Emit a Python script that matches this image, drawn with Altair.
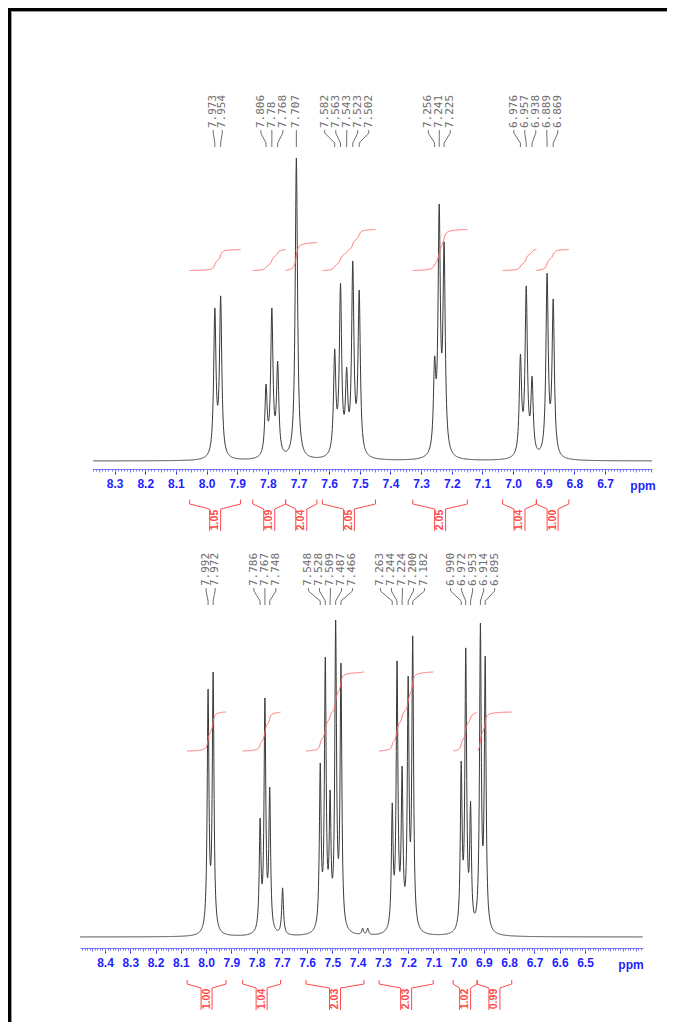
import numpy as np
import pandas as pd
import altair as alt

# ------------------------------------------------------------------ data
# upper spectrum: peak positions as drawn (ppm), apparent heights (% of tallest), labels
TOP_PEAKS = [7.973, 7.954, 7.806, 7.787, 7.768, 7.707, 7.582, 7.563, 7.543, 7.523,
             7.502, 7.256, 7.241, 7.225, 6.976, 6.957, 6.938, 6.889, 6.869]
TOP_HEIGHTS = [50.5, 54.5, 25.4, 50.5, 33.0, 100.0, 37.0, 58.7, 31.0, 66.0,
               56.4, 34.7, 84.8, 72.3, 35.3, 57.8, 28.0, 62.0, 53.5]
TOP_LABELS = ["7.973", "7.954", "7.806", "7.78", "7.768", "7.707", "7.582", "7.563",
              "7.543", "7.523", "7.502", "7.256", "7.241", "7.225", "6.976", "6.957",
              "6.938", "6.889", "6.869"]
TOP_GROUPS = [0, 0, 1, 1, 1, 2, 3, 3, 3, 3, 3, 4, 4, 4, 5, 5, 5, 5, 5]
TOP_INT_FROM = [8.055, 7.849, 7.742, 7.622, 7.327, 7.034, 6.924]
TOP_INT_TO = [7.889, 7.742, 7.640, 7.449, 7.149, 6.924, 6.818]
TOP_INT_VALUES = ["1.05", "1.09", "2.04", "2.05", "2.05", "1.04", "1.00"]
TOP_INT_RISE = [21, 21, 28, 41, 41, 21, 21]
TOP_TICKS = [8.3, 8.2, 8.1, 8.0, 7.9, 7.8, 7.7, 7.6, 7.5, 7.4, 7.3, 7.2, 7.1, 7.0, 6.9, 6.8, 6.7]

# lower spectrum
BOT_PEAKS = [7.992, 7.972, 7.786, 7.767, 7.748, 7.697, 7.548, 7.528, 7.509, 7.487,
             7.466, 7.380, 7.360, 7.263, 7.244, 7.224, 7.200, 7.182, 6.990, 6.972,
             6.953, 6.914, 6.895]
BOT_HEIGHTS = [78.2, 83.6, 37.5, 75.4, 47.3, 15.5, 54.9, 88.3, 46.4, 100.0,
               86.4, 2.8, 2.8, 42.3, 87.1, 53.9, 82.3, 95.0, 55.5, 91.2,
               42.9, 99.0, 88.6]
BOT_LABELS = ["7.992", "7.972", "7.786", "7.767", "7.748", "", "7.548", "7.528", "7.509",
              "7.487", "7.466", "", "", "7.263", "7.244", "7.224", "7.200", "7.182",
              "6.990", "6.972", "6.953", "6.914", "6.895"]
BOT_GROUPS = [0, 0, 1, 1, 1, -1, 2, 2, 2, 2, 2, -1, -1, 3, 3, 3, 3, 3, 4, 4, 4, 4, 4]
BOT_INT_FROM = [8.075, 7.855, 7.604, 7.315, 7.022, 6.927]
BOT_INT_TO = [7.921, 7.705, 7.375, 7.101, 6.927, 6.790]
BOT_INT_VALUES = ["1.00", "1.04", "2.03", "2.03", "1.02", "0.99"]
BOT_INT_RISE = [39, 39, 79, 79, 39, 39]
BOT_TICKS = [8.4, 8.3, 8.2, 8.1, 8.0, 7.9, 7.8, 7.7, 7.6, 7.5, 7.4, 7.3, 7.2, 7.1,
             7.0, 6.9, 6.8, 6.7, 6.6, 6.5]

# ------------------------------------------------------------------ layout
W, H, M = 659, 1014, 8
BLUE = "#1f1fff"
RED = "#ff4a4a"

TOP_CFG = dict(x0=93, x1=652, dom=[8.3705, 6.5467], base=461, top=158, axis_y=469,
               lab_y=128, conn=[130, 133, 143, 147], int_base=270.5,
               br=[499.5, 504, 509, 531], num_y=520, ppm_xy=(643, 486), w=0.0045)
BOT_CFG = dict(x0=80, x1=643, dom=[8.499, 6.2704], base=937, top=620, axis_y=948,
               lab_y=586, conn=[588, 591, 601, 605], int_base=751,
               br=[980, 984, 988, 1010], num_y=999, ppm_xy=(631, 965), w=0.0041)


def model(grid, peaks, amps, w):
    d = grid[:, None] - np.asarray(peaks)[None, :]
    return (np.asarray(amps)[None, :] / (1.0 + (d / w) ** 2)).sum(axis=1)


def solve_amps(peaks, heights, w):
    p = np.asarray(peaks)
    mat = 1.0 / (1.0 + ((p[:, None] - p[None, :]) / w) ** 2)
    a = np.linalg.solve(mat, np.asarray(heights, dtype=float))
    return np.clip(a, 0.3, None)


def panel_layers(cfg, peaks, heights, labels, groups, int_from, int_to, int_vals,
                 int_rise, ticks):
    w = cfg["w"]
    dom = cfg["dom"]
    pxppm = (cfg["x1"] - cfg["x0"]) / (dom[0] - dom[1])
    xs = alt.Scale(domain=dom, range=[cfg["x0"] - M, cfg["x1"] - M], nice=False, zero=False)
    ypix = alt.Scale(domain=[M, M + H], range=[0, H], nice=False, zero=False)
    yint = alt.Scale(domain=[0, 100], range=[cfg["base"] - M, cfg["top"] - M],
                     nice=False, zero=False)
    offset = -(H - (cfg["axis_y"] - M))

    amps = solve_amps(peaks, heights, w)
    grid = np.round(np.arange(np.ceil(dom[1] * 1000) / 1000, dom[0], 0.001), 3)
    inten = model(grid, peaks, amps, w)
    spec_df = pd.DataFrame({"ppm": grid, "inten": inten})

    layers = []
    major_axis = alt.Axis(orient="bottom", offset=offset, values=ticks, format=".1f",
                          labelColor=BLUE, labelFont="Liberation Sans", labelFontSize=12,
                          labelFontWeight="bold", labelPadding=4, labelFlush=False,
                          labelOverlap=False, tickColor=BLUE, tickSize=5, tickWidth=1,
                          domainColor="#7c7cff", domainWidth=1, grid=False, title=None)
    layers.append(
        alt.Chart(spec_df).mark_line(color="#3a3a3a", strokeWidth=1).encode(
            x=alt.X("ppm:Q", scale=xs, axis=major_axis),
            y=alt.Y("inten:Q", scale=yint, axis=None),
        )
    )
    # minor / medium ticks as further axes on the same scale
    lo, hi = dom[1], dom[0]
    minor_vals = [round(v, 2) for v in np.arange(np.ceil(lo * 100) / 100, hi, 0.01)]
    mid_vals = [round(v, 2) for v in np.arange(np.ceil(lo * 20) / 20, hi, 0.05)]
    for vals, size in ((minor_vals, 2), (mid_vals, 3)):
        ax = alt.Axis(orient="bottom", offset=offset, values=vals, labels=False,
                      domain=False, tickColor="#6c6cff", tickSize=size, tickWidth=1,
                      grid=False, title=None)
        layers.append(
            alt.Chart(spec_df.iloc[:2]).mark_point(opacity=0).encode(
                x=alt.X("ppm:Q", scale=xs, axis=ax),
                y=alt.Y("inten:Q", scale=yint, axis=None),
            )
        )

    # peak labels and connectors
    lab_rows, conn_rows = [], []
    gids = sorted(set(g for g in groups if g >= 0))
    for g in gids:
        idx = [i for i, gg in enumerate(groups) if gg == g]
        idx.sort(key=lambda i: -peaks[i])
        n = len(idx)
        center = float(np.mean([peaks[i] for i in idx]))
        sp = (9.0 if n == 2 else 11.0) / pxppm
        for k, i in enumerate(idx):
            lp = center + ((n - 1) / 2 - k) * sp
            lab_rows.append({"ppm": lp, "text": labels[i]})
            c = cfg["conn"]
            pts = [(lp, c[0]), (lp, c[1]), (peaks[i], c[2]), (peaks[i], c[3])]
            for j, (xx, yy) in enumerate(pts):
                conn_rows.append({"ppm": xx, "ypx": yy, "id": labels[i], "k": j})
    layers.append(
        alt.Chart(pd.DataFrame(lab_rows)).mark_text(
            angle=270, align="left", baseline="middle", font="DejaVu Sans Mono",
            fontSize=11, color="#6e6e6e").encode(
            x=alt.X("ppm:Q", scale=xs, axis=None),
            y=alt.value(cfg["lab_y"] - M),
            text="text:N",
        )
    )
    layers.append(
        alt.Chart(pd.DataFrame(conn_rows)).mark_line(color="#707070", strokeWidth=1).encode(
            x=alt.X("ppm:Q", scale=xs, axis=None),
            y=alt.Y("ypx:Q", scale=ypix, axis=None),
            detail="id:N",
            order="k:Q",
        )
    )

    # integral curves, brackets and values
    int_rows, br_rows, num_rows = [], [], []
    hw = 5.5 / pxppm
    b = cfg["br"]
    for j, (a, z) in enumerate(zip(int_from, int_to)):
        seg = grid[(grid <= a) & (grid >= z)][::-1]
        vals = model(seg, peaks, amps, w)
        cum = np.cumsum(vals)
        cum = (cum - cum[0]) / (cum[-1] - cum[0])
        for k, (xx, cc) in enumerate(zip(seg, cum)):
            int_rows.append({"ppm": xx, "ypx": cfg["int_base"] - int_rise[j] * cc,
                             "id": j, "k": k})
        cen = (a + z) / 2
        left = [(a, b[0]), (a, b[1]), (cen + hw, b[2]), (cen + hw, b[3])]
        right = [(z, b[0]), (z, b[1]), (cen - hw, b[2]), (cen - hw, b[3])]
        for side, pts in (("L", left), ("R", right)):
            for k, (xx, yy) in enumerate(pts):
                br_rows.append({"ppm": xx, "ypx": yy, "id": f"{j}{side}", "k": k})
        num_rows.append({"ppm": cen, "text": int_vals[j]})
    layers.append(
        alt.Chart(pd.DataFrame(int_rows)).mark_line(color="#ff6a6a", strokeWidth=1).encode(
            x=alt.X("ppm:Q", scale=xs, axis=None),
            y=alt.Y("ypx:Q", scale=ypix, axis=None),
            detail="id:N",
            order="k:Q",
        )
    )
    layers.append(
        alt.Chart(pd.DataFrame(br_rows)).mark_line(color=RED, strokeWidth=1).encode(
            x=alt.X("ppm:Q", scale=xs, axis=None),
            y=alt.Y("ypx:Q", scale=ypix, axis=None),
            detail="id:N",
            order="k:Q",
        )
    )
    layers.append(
        alt.Chart(pd.DataFrame(num_rows)).mark_text(
            angle=270, align="center", baseline="middle", font="Liberation Sans",
            fontSize=10.5, fontWeight="bold", color=RED).encode(
            x=alt.X("ppm:Q", scale=xs, axis=None),
            y=alt.value(cfg["num_y"] - M),
            text="text:N",
        )
    )
    layers.append(
        alt.Chart(pd.DataFrame({"t": ["ppm"]})).mark_text(
            align="center", baseline="middle", font="Liberation Sans", fontSize=12,
            fontWeight="bold", color=BLUE).encode(
            x=alt.value(cfg["ppm_xy"][0] - M),
            y=alt.value(cfg["ppm_xy"][1] - M),
            text="t:N",
        )
    )
    return layers


layers = []
layers += panel_layers(TOP_CFG, TOP_PEAKS, TOP_HEIGHTS, TOP_LABELS, TOP_GROUPS,
                       TOP_INT_FROM, TOP_INT_TO, TOP_INT_VALUES, TOP_INT_RISE, TOP_TICKS)
layers += panel_layers(BOT_CFG, BOT_PEAKS, BOT_HEIGHTS, BOT_LABELS, BOT_GROUPS,
                       BOT_INT_FROM, BOT_INT_TO, BOT_INT_VALUES, BOT_INT_RISE, BOT_TICKS)

# page frame (left and top edges)
one = pd.DataFrame({"a": [0]})
layers.append(alt.Chart(one).mark_rule(color="#000000", strokeWidth=3).encode(
    x=alt.value(1.5), y=alt.value(0), y2=alt.value(H)))
layers.append(alt.Chart(one).mark_rule(color="#000000", strokeWidth=3).encode(
    x=alt.value(0), x2=alt.value(W), y=alt.value(1.5)))
layers.append(alt.Chart(one).mark_rule(color="#9a9a9a", strokeWidth=1).encode(
    x=alt.value(3.5), y=alt.value(3), y2=alt.value(H)))
layers.append(alt.Chart(one).mark_rule(color="#9a9a9a", strokeWidth=1).encode(
    x=alt.value(3), x2=alt.value(W), y=alt.value(3.5)))

chart = (
    alt.layer(*layers)
    .resolve_scale(x="independent", y="independent")
    .properties(width=W, height=H, padding=0, autosize=alt.AutoSizeParams(type="none"),
                background="white")
    .configure_view(stroke="transparent")
)

chart.save("out.html", embed_options={"renderer": "svg", "actions": False})
